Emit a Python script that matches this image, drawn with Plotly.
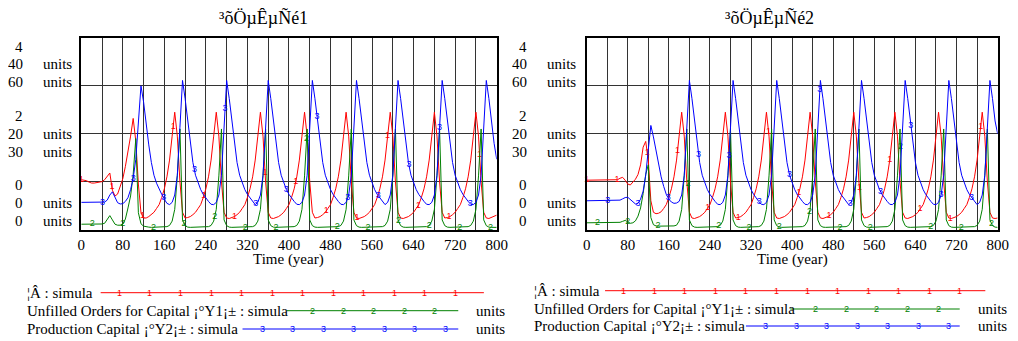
import numpy as np
import plotly.graph_objects as go

# page is 1018x341; the html body keeps its default 8px margin, so the
# figure is made 8px smaller on each axis and all page positions are offset.
PAGE_W, PAGE_H, OFF = 1018, 341, 8
W, H = PAGE_W - OFF, PAGE_H - OFF
FONT = "Liberation Serif"
INK = "#000000"
GRID = "#333333"
RED, GREEN, BLUE = "#ff0000", "#008000", "#0000ff"

# ---------------- data ----------------
time_years = list(range(0, 801, 5))

red_left = [
    1.04, 1.03, 1.02, 0.99, 0.97, 0.97, 0.98, 0.99, 1.00, 1.04,
    1.12, 1.18, 0.82, 0.70, 0.74, 0.88, 1.06, 1.32, 1.62, 1.95,
    2.32, 1.85, 0.95, 0.35, 0.24, 0.24, 0.27, 0.31, 0.36, 0.44,
    0.52, 0.67, 0.85, 1.10, 1.45, 1.95, 2.45, 1.95, 1.00, 0.36,
    0.24, 0.25, 0.27, 0.31, 0.36, 0.44, 0.52, 0.67, 0.85, 1.10,
    1.45, 1.95, 2.45, 1.95, 1.00, 0.36, 0.24, 0.23, 0.25, 0.27,
    0.31, 0.36, 0.44, 0.52, 0.67, 0.85, 1.10, 1.45, 1.95, 2.45,
    1.95, 1.00, 0.36, 0.24, 0.23, 0.25, 0.27, 0.31, 0.36, 0.44,
    0.52, 0.67, 0.85, 1.10, 1.45, 1.95, 2.45, 1.95, 1.00, 0.36,
    0.24, 0.25, 0.27, 0.31, 0.36, 0.44, 0.52, 0.67, 0.85, 1.10,
    1.45, 1.95, 2.45, 1.95, 1.00, 0.36, 0.24, 0.23, 0.25, 0.27,
    0.31, 0.36, 0.44, 0.52, 0.67, 0.85, 1.10, 1.45, 1.95, 2.45,
    1.95, 1.00, 0.36, 0.24, 0.23, 0.25, 0.27, 0.31, 0.36, 0.44,
    0.52, 0.67, 0.85, 1.10, 1.45, 1.95, 2.45, 1.95, 1.00, 0.36,
    0.24, 0.25, 0.27, 0.31, 0.36, 0.44, 0.52, 0.67, 0.85, 1.10,
    1.45, 1.95, 2.45, 1.95, 1.00, 0.36, 0.24, 0.23, 0.25, 0.27,
    0.30,
]

green_left = [
    1.1, 1.1, 1.1, 1.1, 1.1, 1.1, 1.1, 1.1, 1.15, 1.3,
    2.0, 2.9, 2.0, 1.1, 0.9, 0.9, 1.1, 2.2, 4.5, 7.0,
    11.5, 19.0, 3.5, 1.2, 0.7, 0.55, 0.5, 0.45, 0.45, 0.45,
    0.45, 0.5, 0.55, 0.6, 0.85, 1.75, 4.2, 11.2, 21.0, 2.0,
    0.8, 0.5, 0.45, 0.45, 0.45, 0.45, 0.45, 0.45, 0.5, 0.6,
    0.85, 1.75, 4.2, 11.2, 21.0, 2.0, 0.8, 0.5, 0.45, 0.45,
    0.45, 0.45, 0.45, 0.45, 0.45, 0.5, 0.6, 0.85, 1.75, 4.2,
    11.2, 21.0, 2.0, 0.8, 0.5, 0.45, 0.45, 0.45, 0.45, 0.45,
    0.45, 0.5, 0.6, 0.85, 1.75, 4.2, 11.2, 21.0, 2.0, 0.8,
    0.5, 0.45, 0.45, 0.45, 0.45, 0.45, 0.45, 0.45, 0.5, 0.6,
    0.85, 1.75, 4.2, 11.2, 21.0, 2.0, 0.8, 0.5, 0.45, 0.45,
    0.45, 0.45, 0.45, 0.45, 0.45, 0.5, 0.6, 0.85, 1.75, 4.2,
    11.2, 21.0, 2.0, 0.8, 0.5, 0.45, 0.45, 0.45, 0.45, 0.45,
    0.45, 0.45, 0.5, 0.6, 0.85, 1.75, 4.2, 11.2, 21.0, 2.0,
    0.8, 0.5, 0.45, 0.45, 0.45, 0.45, 0.45, 0.45, 0.5, 0.6,
    0.85, 1.75, 4.2, 11.2, 21.0, 2.0, 0.8, 0.5, 0.45, 0.45,
    0.45,
]

blue_left = [
    8.5, 8.5, 8.5, 8.5, 8.5, 8.5, 8.5, 8.5, 8.5, 8.6,
    9.2, 10.8, 11.8, 10.0, 8.4, 8.0, 8.1, 8.8, 10.0, 12.5,
    16.0, 22.0, 34.0, 45.0, 40.0, 33.0, 26.5, 21.0, 17.0, 14.5,
    12.5, 11.0, 9.5, 8.2, 7.8, 8.5, 10.8, 17.0, 32.0, 46.7,
    41.0, 34.0, 27.0, 21.0, 17.0, 14.5, 12.5, 11.0, 9.8, 8.8,
    7.9, 7.8, 8.5, 10.8, 17.0, 32.0, 46.7, 41.0, 34.0, 27.0,
    21.0, 17.0, 14.5, 12.5, 11.0, 9.8, 8.6, 7.8, 8.5, 10.8,
    17.0, 32.0, 46.7, 41.0, 34.0, 27.0, 21.0, 17.0, 14.5, 12.5,
    11.0, 9.8, 8.8, 7.9, 7.8, 8.5, 10.8, 17.0, 32.0, 46.7,
    41.0, 34.0, 27.0, 21.0, 17.0, 14.5, 12.5, 11.0, 9.8, 8.8,
    7.9, 7.8, 8.5, 10.8, 17.0, 32.0, 46.7, 41.0, 34.0, 27.0,
    21.0, 17.0, 14.5, 12.5, 11.0, 9.8, 8.6, 7.8, 8.5, 10.8,
    17.0, 32.0, 46.7, 41.0, 34.0, 27.0, 21.0, 17.0, 14.5, 12.5,
    11.0, 9.8, 8.8, 7.9, 7.8, 8.5, 10.8, 17.0, 32.0, 46.7,
    41.0, 34.0, 27.0, 21.0, 17.0, 14.5, 12.5, 11.0, 9.8, 8.8,
    7.9, 7.8, 8.5, 10.8, 17.0, 32.0, 46.7, 41.0, 34.0, 27.0,
    22.0,
]

red_right = [
    1.03, 1.03, 1.03, 1.03, 1.03, 1.03, 1.03, 1.03, 1.03, 1.03,
    1.03, 1.03, 1.04, 1.07, 1.09, 1.03, 0.95, 0.93, 0.98, 1.05,
    1.15, 1.35, 1.72, 1.84, 1.45, 0.60, 0.36, 0.33, 0.34, 0.37,
    0.44, 0.52, 0.67, 0.85, 1.10, 1.45, 1.95, 2.45, 1.95, 1.00,
    0.36, 0.24, 0.23, 0.25, 0.27, 0.31, 0.36, 0.44, 0.52, 0.67,
    0.85, 1.10, 1.45, 1.95, 2.45, 1.95, 1.00, 0.36, 0.24, 0.25,
    0.27, 0.31, 0.36, 0.44, 0.52, 0.67, 0.85, 1.10, 1.45, 1.95,
    2.45, 1.95, 1.00, 0.36, 0.24, 0.23, 0.25, 0.27, 0.31, 0.36,
    0.44, 0.52, 0.67, 0.85, 1.10, 1.45, 1.95, 2.45, 1.95, 1.00,
    0.36, 0.24, 0.23, 0.25, 0.27, 0.31, 0.36, 0.44, 0.52, 0.67,
    0.85, 1.10, 1.45, 1.95, 2.45, 1.95, 1.00, 0.36, 0.24, 0.25,
    0.27, 0.31, 0.36, 0.44, 0.52, 0.67, 0.85, 1.10, 1.45, 1.95,
    2.45, 1.95, 1.00, 0.36, 0.24, 0.23, 0.25, 0.27, 0.31, 0.36,
    0.44, 0.52, 0.67, 0.85, 1.10, 1.45, 1.95, 2.45, 1.95, 1.00,
    0.36, 0.24, 0.23, 0.25, 0.27, 0.31, 0.36, 0.44, 0.52, 0.67,
    0.85, 1.10, 1.45, 1.95, 2.45, 1.95, 1.00, 0.36, 0.24, 0.23,
    0.24,
]

green_right = [
    1.4, 1.4, 1.4, 1.4, 1.4, 1.4, 1.4, 1.4, 1.4, 1.4,
    1.4, 1.4, 1.4, 1.5, 1.7, 1.9, 1.6, 1.3, 1.4, 1.8,
    2.8, 4.5, 7.5, 11.5, 13.5, 2.5, 1.0, 0.75, 0.7, 0.7,
    0.7, 0.7, 0.7, 0.7, 0.75, 0.9, 1.75, 4.2, 11.2, 21.0,
    2.0, 0.8, 0.5, 0.45, 0.45, 0.45, 0.45, 0.45, 0.45, 0.45,
    0.5, 0.6, 0.85, 1.75, 4.2, 11.2, 21.0, 2.0, 0.8, 0.5,
    0.45, 0.45, 0.45, 0.45, 0.45, 0.45, 0.5, 0.6, 0.85, 1.75,
    4.2, 11.2, 21.0, 2.0, 0.8, 0.5, 0.45, 0.45, 0.45, 0.45,
    0.45, 0.45, 0.45, 0.5, 0.6, 0.85, 1.75, 4.2, 11.2, 21.0,
    2.0, 0.8, 0.5, 0.45, 0.45, 0.45, 0.45, 0.45, 0.45, 0.45,
    0.5, 0.6, 0.85, 1.75, 4.2, 11.2, 21.0, 2.0, 0.8, 0.5,
    0.45, 0.45, 0.45, 0.45, 0.45, 0.45, 0.5, 0.6, 0.85, 1.75,
    4.2, 11.2, 21.0, 2.0, 0.8, 0.5, 0.45, 0.45, 0.45, 0.45,
    0.45, 0.45, 0.45, 0.5, 0.6, 0.85, 1.75, 4.2, 11.2, 21.0,
    2.0, 0.8, 0.5, 0.45, 0.45, 0.45, 0.45, 0.45, 0.45, 0.45,
    0.5, 0.6, 0.85, 1.75, 4.2, 11.2, 21.0, 2.0, 0.8, 0.5,
    0.45,
]

blue_right = [
    9.0, 9.0, 9.0, 9.0, 9.0, 9.0, 9.0, 9.0, 9.0, 9.0,
    9.0, 9.0, 9.0, 9.2, 9.6, 10.0, 10.1, 9.3, 8.5, 8.0,
    8.2, 9.5, 12.0, 17.0, 25.0, 32.6, 29.0, 24.5, 20.5, 16.5,
    13.5, 11.0, 9.5, 8.6, 8.2, 8.3, 8.8, 10.8, 17.0, 32.0,
    46.7, 41.0, 34.0, 27.0, 21.0, 17.0, 14.5, 12.5, 11.0, 9.8,
    8.8, 7.9, 7.8, 8.5, 10.8, 17.0, 32.0, 46.7, 41.0, 34.0,
    27.0, 21.0, 17.0, 14.5, 12.5, 11.0, 9.8, 8.8, 7.9, 7.8,
    8.5, 10.8, 17.0, 32.0, 46.7, 41.0, 34.0, 27.0, 21.0, 17.0,
    14.5, 12.5, 11.0, 9.8, 8.8, 7.9, 7.8, 8.5, 10.8, 17.0,
    32.0, 46.7, 41.0, 34.0, 27.0, 21.0, 17.0, 14.5, 12.5, 11.0,
    9.8, 8.6, 7.8, 8.5, 10.8, 17.0, 32.0, 46.7, 41.0, 34.0,
    27.0, 21.0, 17.0, 14.5, 12.5, 11.0, 9.8, 8.8, 7.9, 7.8,
    8.5, 10.8, 17.0, 32.0, 46.7, 41.0, 34.0, 27.0, 21.0, 17.0,
    14.5, 12.5, 11.0, 9.8, 8.8, 7.9, 7.8, 8.5, 10.8, 17.0,
    32.0, 46.7, 41.0, 34.0, 27.0, 21.0, 17.0, 14.5, 12.5, 11.0,
    9.8, 8.6, 7.8, 8.5, 10.8, 17.0, 32.0, 46.7, 41.0, 34.0,
    30.0,
]

x_tick_labels = ["0", "80", "160", "240", "320", "400", "480", "560", "640", "720", "800"]
red_ticks = [4, 2, 0]
green_ticks = [40, 20, 0]
blue_ticks = [60, 30, 0]
red_range, green_range, blue_range = [0, 4], [0, 40], [0, 60]
unit_label = "units"
x_title = "Time (year)"
titles = ["³õÖµÊµÑé1", "³õÖµÊµÑé2"]
legend_names = ["¦Â : simula",
                "Unfilled Orders for Capital ¡°Y1¡± : simula",
                "Production Capital ¡°Y2¡± : simula"]
series_tags = ["1", "2", "3"]
series_colors = [RED, GREEN, BLUE]
tag_start = [0, 21, 41]      # first number-tag along each curve (years)
tag_step = 59                # spacing of number tags along curves (years)


def fx(p):
    """page pixel x -> paper fraction"""
    return (p - OFF) / W


def fy(p):
    """page pixel y -> paper fraction"""
    return 1 - (p - OFF) / H


Y_TOP, Y_BOT = 38, 229.5
panels = [
    dict(xa="x", ya=["y", "y2", "y3"], left=78.3, right=500.0,
         data=[red_left, green_left, blue_left], title=titles[0], title_x=263.5,
         num_shift=-56.6, unit_shift=-40.6,
         leg_x=21, leg_rows=[292.7, 310.7, 329.0],
         leg_lines=[(98, 487), (287, 461), (242, 461)],
         leg_tag0=[117, 313, 262], leg_units=477),
    dict(xa="x2", ya=["y4", "y5", "y6"], left=591.3, right=1008.5,
         data=[red_right, green_right, blue_right], title=titles[1], title_x=776.5,
         num_shift=-58.0, unit_shift=-41.3,
         leg_x=536, leg_rows=[290.7, 309.0, 326.0],
         leg_lines=[(610, 996), (798, 970), (753, 970)],
         leg_tag0=[629, 824, 773], leg_units=987),
]

fig = go.Figure()
tarr = np.array(time_years, dtype=float)

for p in panels:
    for k in range(3):
        vals = p["data"][k]
        fig.add_trace(go.Scatter(
            x=time_years, y=vals, xaxis=p["xa"], yaxis=p["ya"][k], mode="lines",
            line=dict(color=series_colors[k], width=1), hoverinfo="skip", showlegend=False))
        mt = np.arange(tag_start[k], 800, tag_step, dtype=float)
        mv = np.interp(mt, tarr, np.array(vals, dtype=float))
        fig.add_trace(go.Scatter(
            x=mt, y=mv, xaxis=p["xa"], yaxis=p["ya"][k], mode="text",
            text=[series_tags[k]] * len(mt), textposition="middle center",
            textfont=dict(family="Arial", size=9, color=series_colors[k]),
            cliponaxis=False, hoverinfo="skip", showlegend=False))

tickvals = list(range(0, 801, 40))
ticktext = []
for i, v in enumerate(tickvals):
    ticktext.append(x_tick_labels[i // 2] if i % 2 == 0 else "")

layout = dict(
    width=W, height=H, margin=dict(l=0, r=0, t=0, b=0),
    paper_bgcolor="white", plot_bgcolor="white", showlegend=False,
    font=dict(family=FONT, size=15, color=INK),
)

ydom = [fy(Y_BOT), fy(Y_TOP)]
ranges = [red_range, green_range, blue_range]
annotations = []
shapes = []
for pi, p in enumerate(panels):
    xkey = "xaxis" if pi == 0 else "xaxis2"
    layout[xkey] = dict(
        domain=[fx(p["left"]), fx(p["right"])], range=[0, 800], anchor=p["ya"][0],
        tickmode="array", tickvals=tickvals, ticktext=ticktext,
        showgrid=True, gridcolor=GRID, gridwidth=1, zeroline=False,
        showline=True, mirror=True, linecolor=INK, linewidth=2, ticks="",
        tickfont=dict(family=FONT, size=15, color=INK), fixedrange=True)
    for k in range(3):
        ykey = "yaxis" + ("" if p["ya"][k] == "y" else p["ya"][k][1:])
        ax = dict(domain=ydom, range=ranges[k], anchor=p["xa"], fixedrange=True)
        if k == 0:
            ax.update(dtick=ranges[0][1] / 4, showgrid=True, gridcolor=GRID, gridwidth=1,
                      showticklabels=False, zeroline=False, showline=True, mirror=True,
                      linecolor=INK, linewidth=2, ticks="")
        else:
            ax.update(overlaying=p["ya"][0], visible=False, showgrid=False, zeroline=False)
        layout[ykey] = ax

    # stacked axis labels (Vensim style)
    xd = p["xa"] + " domain"
    yd = p["ya"][0] + " domain"
    groups = [(1.0, [-8.7, -26.2, -43.8]), (0.5, [17.8, 0.0, -17.8]), (0.0, [44.3, 26.6, 8.9])]
    tick_sets = [red_ticks, green_ticks, blue_ticks]
    for gi, (yfrac, shifts) in enumerate(groups):
        for k in range(3):
            annotations.append(dict(
                xref=xd, yref=yd, x=0, y=yfrac, xshift=p["num_shift"], yshift=shifts[k],
                xanchor="right", yanchor="middle", showarrow=False,
                text=str(tick_sets[k][gi]), font=dict(family=FONT, size=15, color=INK)))
            if k > 0:
                annotations.append(dict(
                    xref=xd, yref=yd, x=0, y=yfrac, xshift=p["unit_shift"], yshift=shifts[k],
                    xanchor="left", yanchor="middle", showarrow=False,
                    text=unit_label, font=dict(family=FONT, size=15, color=INK)))

    # title and x-axis title
    annotations.append(dict(xref="paper", yref="paper", x=fx(p["title_x"]), y=fy(17.5),
                            xanchor="center", yanchor="middle", showarrow=False,
                            text=p["title"], font=dict(family=FONT, size=18, color=INK)))
    annotations.append(dict(xref=xd, yref="paper", x=0.5, y=fy(259.5),
                            xanchor="center", yanchor="middle", showarrow=False,
                            text=x_title, font=dict(family=FONT, size=15, color=INK)))

    # legend block
    for k in range(3):
        ry = p["leg_rows"][k]
        annotations.append(dict(xref="paper", yref="paper", x=fx(p["leg_x"]), y=fy(ry),
                                xanchor="left", yanchor="middle", showarrow=False,
                                text=legend_names[k], font=dict(family=FONT, size=15, color=INK)))
        x0, x1 = p["leg_lines"][k]
        shapes.append(dict(type="line", xref="paper", yref="paper",
                           x0=fx(x0), x1=fx(x1), y0=fy(ry), y1=fy(ry),
                           line=dict(color=series_colors[k], width=1)))
        for mx in np.arange(p["leg_tag0"][k], x1 - 10, 31):
            annotations.append(dict(xref="paper", yref="paper", x=fx(mx), y=fy(ry),
                                    xanchor="center", yanchor="middle", showarrow=False,
                                    text=series_tags[k],
                                    font=dict(family="Arial", size=9, color=series_colors[k])))
        if k > 0:
            annotations.append(dict(xref="paper", yref="paper", x=fx(p["leg_units"]), y=fy(ry),
                                    xanchor="left", yanchor="middle", showarrow=False,
                                    text=unit_label, font=dict(family=FONT, size=15, color=INK)))

layout["annotations"] = annotations
layout["shapes"] = shapes
fig.update_layout(**layout)
fig.write_html("out.html")
